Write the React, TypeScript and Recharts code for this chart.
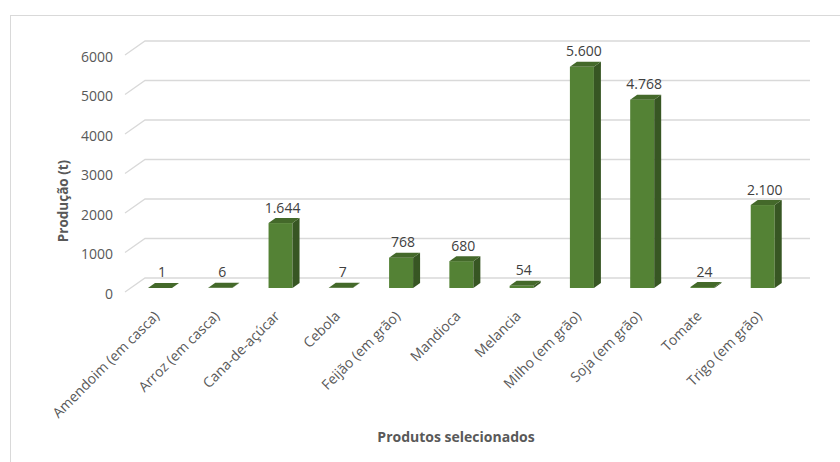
import { BarChart, Bar, XAxis, YAxis, CartesianGrid, LabelList, Label } from 'recharts'

const produtos = [
    'Amendoim (em casca)',
    'Arroz (em casca)',
    'Cana-de-açúcar',
    'Cebola',
    'Feijão (em grão)',
    'Mandioca',
    'Melancia',
    'Milho (em grão)',
    'Soja (em grão)',
    'Tomate',
    'Trigo (em grão)',
]

const producao = [1, 6, 1644, 7, 768, 680, 54, 5600, 4768, 24, 2100]

const ticksY = [0, 1000, 2000, 3000, 4000, 5000, 6000]

const CORES = {
    frente: '#548235',
    lado: '#375623',
    topo: '#44692a',
    grade: '#d9d9d9',
    texto: '#595959',
    rotulo: '#404040',
}

const FONTE = '"Open Sans", sans-serif'

// profundidade do efeito 3D
const PX = 7
const PY = 5

function formatarNumero(v: number) {
    return String(v).replace(/\B(?=(\d{3})+(?!\d))/g, '.')
}

function Barra3D(props: any) {
    const { x, y, width, height } = props
    if (x == null || y == null) return null
    const h = Math.max(height, 0)
    return (
        <g>
            <rect x={x} y={y} width={width} height={h} fill={CORES.frente} />
            <path
                d={`M${x + width},${y} L${x + width + PX},${y - PY} L${x + width + PX},${y + h - PY} L${x + width},${y + h} Z`}
                fill={CORES.lado}
            />
            <path
                d={`M${x},${y} L${x + PX},${y - PY} L${x + width + PX},${y - PY} L${x + width},${y} Z`}
                fill={CORES.topo}
            />
        </g>
    )
}

function LinhaGrade(props: any) {
    const { x1, x2, y1 } = props
    return (
        <path
            key={props.key}
            d={`M${x1 - 5},${y1 + 4} L${x1 + 15},${y1 - 10} L${x2 + 17},${y1 - 10}`}
            stroke={CORES.grade}
            strokeWidth={1.3}
            fill="none"
        />
    )
}

function TickY(props: any) {
    const { y, payload } = props
    return (
        <text x={113} y={y + 5} textAnchor="end" dominantBaseline="central"
            fontFamily={FONTE} fontSize={14} fill={CORES.texto}>
            {payload.value}
        </text>
    )
}

function TickX(props: any) {
    const { x, payload } = props
    const ay = 317
    return (
        <text x={x} y={ay} transform={`rotate(-45 ${x} ${ay})`} textAnchor="end"
            fontFamily={FONTE} fontSize={14} fill={CORES.texto}>
            {payload.value}
        </text>
    )
}

function RotuloValor(props: any) {
    const { x, y, width, value } = props
    return (
        <text x={x + width / 2 + 2} y={y - 16} textAnchor="middle" dominantBaseline="central"
            fontFamily={FONTE} fontSize={14} fill={CORES.rotulo}>
            {formatarNumero(Number(value))}
        </text>
    )
}

export default function App() {
    const dados = produtos.map((produto, i) => ({ produto, producao: producao[i] }))

    return (
        <div style={{ position: 'absolute', left: 0, top: 0, width: 840, height: 462, background: '#fff', overflow: 'hidden' }}>
            <div style={{
                position: 'absolute', left: 10, top: 15, width: 840, height: 462,
                borderTop: '1.5px solid #d9d9d9', borderLeft: '1.5px solid #d9d9d9',
            }} />
            <div style={{ position: 'absolute', left: 0, top: 0 }}>
                <BarChart width={840} height={462} data={dados}
                    margin={{ top: 51, right: 47, bottom: 0, left: 0 }}>
                    <CartesianGrid vertical={false} horizontal={LinhaGrade} />
                    <XAxis dataKey="produto" interval={0} height={174}
                        axisLine={false} tickLine={false} tick={TickX}>
                        <Label content={() => (
                            <text x={456} y={436} textAnchor="middle" dominantBaseline="central"
                                fontFamily={FONTE} fontSize={14} fontWeight="bold" fill={CORES.texto}>
                                Produtos selecionados
                            </text>
                        )} />
                    </XAxis>
                    <YAxis type="number" domain={[0, 6000]} ticks={ticksY} width={130}
                        axisLine={false} tickLine={false} tick={TickY}>
                        <Label content={() => (
                            <text x={63} y={201} transform="rotate(-90 63 201)" textAnchor="middle"
                                dominantBaseline="central" fontFamily={FONTE} fontSize={13.5}
                                fontWeight="bold" fill={CORES.texto}>
                                Produção (t)
                            </text>
                        )} />
                    </YAxis>
                    <Bar dataKey="producao" barSize={24} shape={Barra3D} isAnimationActive={false}>
                        <LabelList dataKey="producao" content={RotuloValor} />
                    </Bar>
                </BarChart>
            </div>
        </div>
    )
}
